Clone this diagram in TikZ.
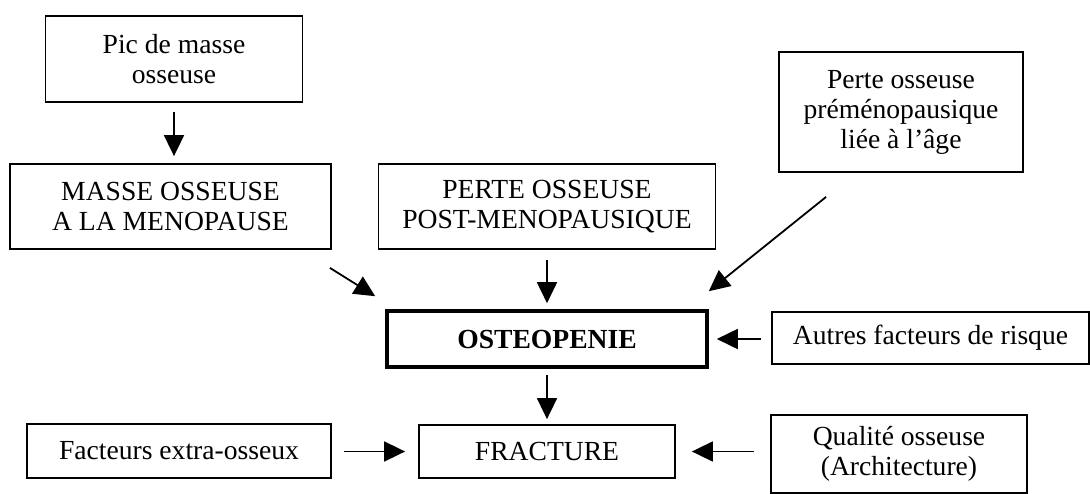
\documentclass[tikz,border=0pt]{standalone}
\usepackage{fontspec}
\setmainfont{Liberation Serif}
\usetikzlibrary{arrows.meta,calc}
\begin{document}
\begin{tikzpicture}[x=1pt,y=-1pt,
  box/.style={draw=black, line width=1.8pt, rectangle, inner sep=0pt, align=center,
    font=\fontsize{27.6}{30}\selectfont},
  thickbox/.style={box, line width=3.6pt, font=\fontsize{27.6}{30}\selectfont\bfseries},
  arr/.style={line width=1.8pt, -{Triangle[length=21pt,width=20pt]}}
]
\useasboundingbox (0,0) rectangle (1090,493);
\node[box, minimum width=257pt, minimum height=86pt] (pic) at (174,59) {Pic de masse\\osseuse};
\node[box, minimum width=321pt, minimum height=85pt] (masse) at (170.5,206.5) {MASSE OSSEUSE\\A LA MENOPAUSE};
\node[box, minimum width=337pt, minimum height=85pt] (perte) at (547,206.5) {PERTE OSSEUSE\\POST-MENOPAUSIQUE};
\node[box, minimum width=244pt, minimum height=120pt] (pre) at (901,112) {Perte osseuse\\préménopausique\\liée à l’âge};
\node[thickbox, minimum width=320pt, minimum height=56pt] (osteo) at (547,339) {OSTEOPENIE};
\node[box, minimum width=317pt, minimum height=52pt] (autres) at (930.5,338) {Autres facteurs de risque};
\node[box, minimum width=256pt, minimum height=53pt] (fract) at (547,451.5) {FRACTURE};
\node[box, minimum width=304pt, minimum height=54pt] (fact) at (179,451) {Facteurs extra-osseux};
\node[box, minimum width=256pt, minimum height=78pt] (qual) at (899,454) {Qualité osseuse\\(Architecture)};

\draw[arr] ([yshift=-9pt]pic.south) -- ($(pic.south |- masse.north)+(0,-7)$);
\draw[arr] ([xshift=-2pt,yshift=-18pt]masse.south east) -- ([xshift=-10pt,yshift=13pt]osteo.north west);
\draw[arr] ([yshift=-10pt]perte.south) -- ([yshift=6pt]osteo.north);
\draw[arr] ([xshift=48pt,yshift=-24pt]pre.south west) -- ([yshift=18pt]osteo.north east);
\draw[arr] ($(autres.west |- osteo.east)+(-10,0)$) -- ([xshift=8pt]osteo.east);
\draw[arr] ([yshift=-6pt]osteo.south) -- ([yshift=5pt]fract.north);
\draw[arr] ($(fact.east |- fract.west)+(12,0)$) -- ([xshift=-13pt]fract.west);
\draw[arr] ($(qual.west |- fract.east)+(-16,0)$) -- ([xshift=16pt]fract.east);
\end{tikzpicture}
\end{document}
